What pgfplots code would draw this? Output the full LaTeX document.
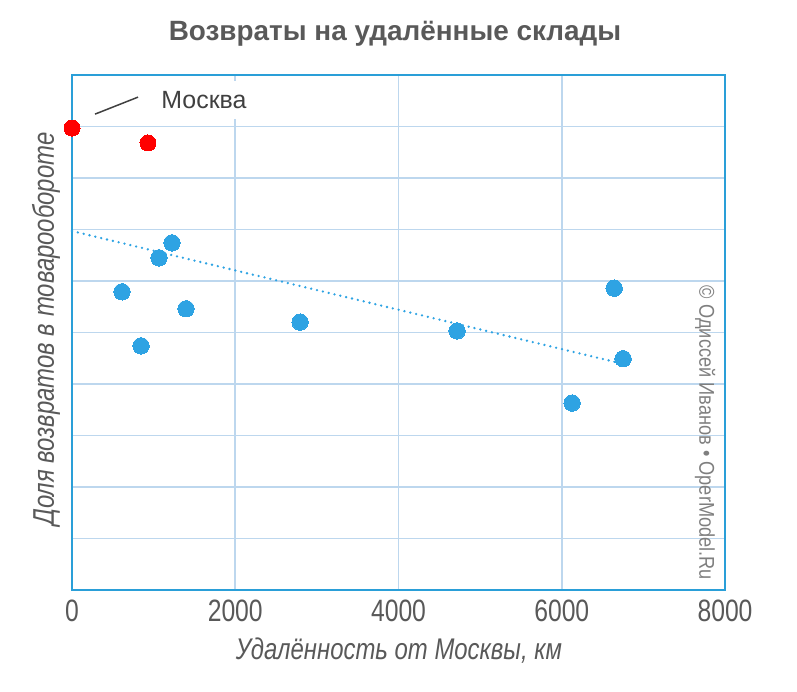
\documentclass[border=0pt]{standalone}
\usepackage{pgfplots}
\pgfplotsset{compat=1.18}
\usepackage{fontspec}
\setmainfont{Liberation Sans}
\newfontfamily\narrowfont[FakeStretch=0.8]{Liberation Sans}
\newfontfamily\wmfont[FakeStretch=0.85]{Liberation Sans}
\definecolor{txt}{HTML}{595959}
\definecolor{ptblue}{HTML}{2EA3E3}
\definecolor{axblue}{HTML}{2A9FD8}
\definecolor{gridblue}{HTML}{BDD7EE}
\definecolor{wm}{HTML}{7F7F7F}

\pgfplotstableread{
x y
613 5.79
846 4.74
1066 6.45
1225 6.74
1397 5.46
2794 5.20
4718 5.03
6127 3.63
6642 5.86
6752 4.49
}\bluedata

\pgfplotstableread{
x y
0 8.97
931 8.68
}\reddata

\begin{document}
\begin{tikzpicture}[x=1bp,y=1bp]
\path[use as bounding box] (0,0) rectangle (797,692);
\node[font=\bfseries\fontsize{28}{30}\selectfont, text=txt] at (395,658) {Возвраты на удалённые склады};
\node[font=\narrowfont\itshape\fontsize{30}{32}\selectfont, text=txt] at (399,41) {Удалённость от Москвы, км};
\node[font=\narrowfont\itshape\fontsize{30}{32}\selectfont, text=txt, rotate=90] at (46,363) {Доля возвратов в товарообороте};
\begin{axis}[
  at={(72bp,102bp)}, anchor=south west,
  scale only axis, width=653bp, height=515bp,
  xmin=0, xmax=8000, ymin=0, ymax=10,
  xtick={0,2000,4000,6000,8000},
  ytick={1,2,3,4,5,6,7,8,9},
  yticklabels={},
  grid=major,
  major grid style={gridblue, line width=1.8bp},
  axis line style={axblue, line width=2bp},
  tick style={draw=none},
  clip=false,
  /pgf/number format/assume math mode=true,
  /pgf/number format/set thousands separator={},
  xticklabel style={font=\narrowfont\fontsize{31}{32}\selectfont, text=txt, yshift=-6bp},
]
\addplot[ptblue, line width=2.6bp, line cap=round, dash pattern=on 0bp off 6bp] coordinates {(0,6.97) (6752,4.39)};
\addplot[only marks, color=ptblue, mark=*, mark size=8.2bp, mark options={draw=ptblue, fill=ptblue, line width=0pt}] table[x=x,y=y] {\bluedata};
\addplot[only marks, color=red, mark=*, mark size=8bp, mark options={draw=red, fill=red, line width=0pt}] table[x=x,y=y] {\reddata};
\addplot[draw=black!75, line width=1.5bp] coordinates {(282,9.24) (809,9.57)};
\node[fill=white, inner xsep=12bp, inner ysep=0bp, minimum height=38bp, font=\fontsize{25}{26}\selectfont, text=black!75] at (axis cs:1617,9.52) {Москва};
\end{axis}
\node[font=\wmfont\fontsize{21.5}{22}\selectfont, text=wm, rotate=-90] at (705,259) {© Одиссей Иванов • OperModel.Ru};
\end{tikzpicture}
\end{document}
